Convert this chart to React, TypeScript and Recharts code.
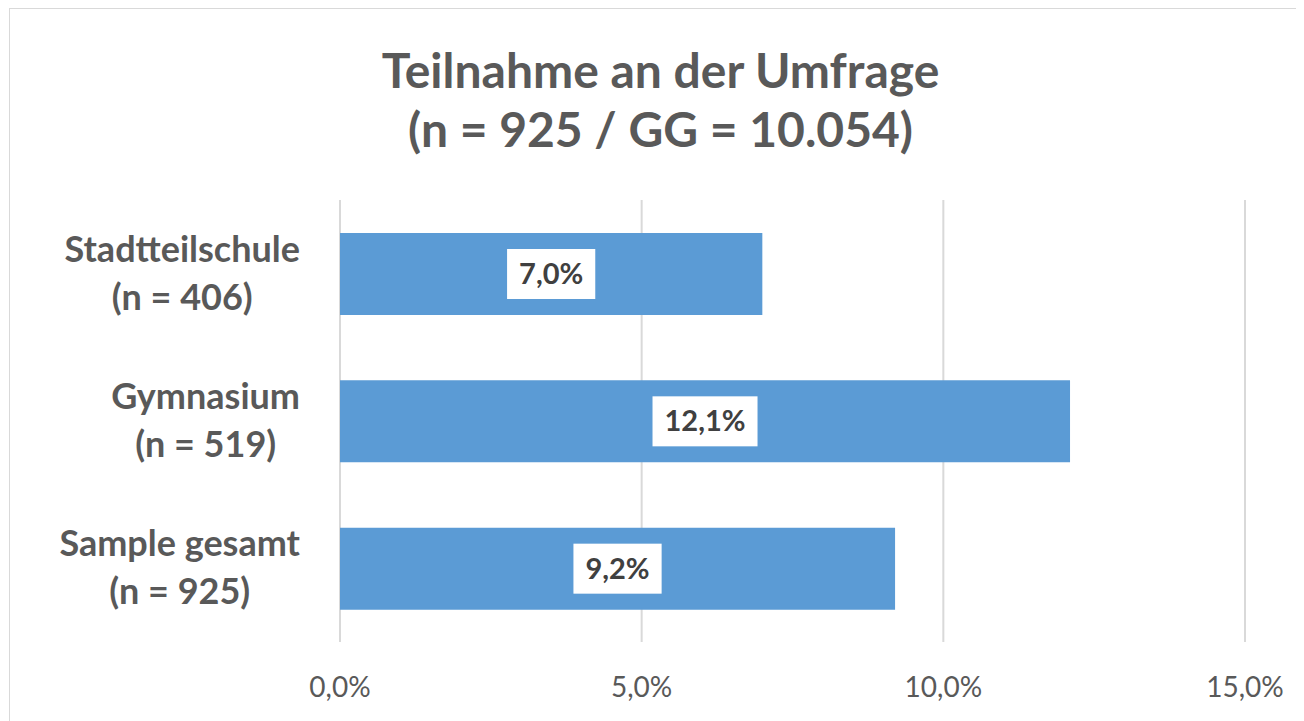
import React from "react";
import { BarChart, Bar, XAxis, YAxis, CartesianGrid, LabelList } from "recharts";

const categories = ["Stadtteilschule", "Gymnasium", "Sample gesamt"];
const sampleSizes = [406, 519, 925];
const participation = [7.0, 12.1, 9.2];
const xTicks = [0, 5, 10, 15];
const titleLines = ["Teilnahme an der Umfrage", "(n = 925 / GG = 10.054)"];

const data = categories.map((c, i) => ({ name: c, n: sampleSizes[i], value: participation[i] }));

const FONT = "Lato, 'Open Sans', sans-serif";
const fmt = (v: number) => v.toFixed(1).replace(".", ",") + "%";

let canvasCtx: CanvasRenderingContext2D | null = null;
function measure(text: string, font: string): number {
  try {
    if (!canvasCtx) canvasCtx = document.createElement("canvas").getContext("2d");
    if (canvasCtx) {
      canvasCtx.font = font;
      return canvasCtx.measureText(text).width;
    }
  } catch (e) {}
  return text.length * 16;
}

const W = 1296;
const H = 713;
const CAT_FS = 36;

const YTick = (props: any) => {
  const { y, payload, index } = props;
  const n = sampleSizes[index] ?? data.find((d) => d.name === payload.value)?.n;
  const l1 = String(payload.value);
  const l2 = `(n = ${n})`;
  const f = `700 ${CAT_FS}px Lato`;
  const maxW = Math.max(measure(l1, f), measure(l2, f));
  const cx = 292 - maxW / 2;
  return (
    <g>
      <text x={cx} y={y - 12} textAnchor="middle" fontFamily={FONT} fontWeight={700} fontSize={CAT_FS} fill="#595959">
        {l1}
      </text>
      <text x={cx} y={y + 36} textAnchor="middle" fontFamily={FONT} fontWeight={700} fontSize={CAT_FS} fill="#595959">
        {l2}
      </text>
    </g>
  );
};

const XTick = (props: any) => {
  const { x, payload } = props;
  return (
    <text x={x} y={634 + 55} textAnchor="middle" fontFamily={FONT} fontSize={28} fill="#595959">
      {fmt(payload.value)}
    </text>
  );
};

const ValueLabel = (props: any) => {
  const { x, y, width, height, value } = props;
  const text = fmt(Number(value));
  const fs = 29;
  const tw = measure(text, `700 ${fs}px Lato`);
  const bw = tw + 24;
  const bh = 50;
  const cx = x + width / 2;
  const cy = y + height / 2;
  return (
    <g>
      <rect x={cx - bw / 2} y={cy - bh / 2} width={bw} height={bh} fill="#ffffff" />
      <text x={cx} y={cy + 10} textAnchor="middle" fontFamily={FONT} fontWeight={700} fontSize={fs} fill="#404040">
        {text}
      </text>
    </g>
  );
};

export default function App() {
  return (
    <div style={{ position: "relative", width: W, height: H, overflow: "hidden", background: "#fff" }}>
      <div
        style={{
          position: "absolute",
          left: 1,
          top: 0,
          width: 1304,
          height: 740,
          border: "1.5px solid #d9d9d9",
          boxSizing: "border-box",
        }}
      />
      <svg width={W} height={160} style={{ position: "absolute", left: 0, top: 0 }}>
        <text x={652.5} y={80} textAnchor="middle" fontFamily={FONT} fontWeight={700} fontSize={48} fill="#595959">
          {titleLines[0]}
        </text>
        <text x={652.5} y={139} textAnchor="middle" fontFamily={FONT} fontWeight={700} fontSize={48} fill="#595959">
          {titleLines[1]}
        </text>
      </svg>
      <div style={{ position: "absolute", left: 0, top: 0 }}>
        <BarChart
          width={W}
          height={H}
          data={data}
          layout="vertical"
          margin={{ top: 192, right: 59, bottom: 0, left: 0 }}
          barSize={82}
        >
          <CartesianGrid horizontal={false} vertical={true} stroke="#d9d9d9" strokeWidth={2} />
          <XAxis
            type="number"
            domain={[0, 15]}
            ticks={xTicks}
            axisLine={false}
            tickLine={false}
            height={79}
            tick={<XTick />}
            interval={0}
          />
          <YAxis
            type="category"
            dataKey="name"
            width={332}
            axisLine={false}
            tickLine={false}
            tick={<YTick />}
            interval={0}
          />
          <Bar dataKey="value" fill="#5b9bd5" isAnimationActive={false}>
            <LabelList dataKey="value" content={<ValueLabel />} />
          </Bar>
        </BarChart>
      </div>
    </div>
  );
}
